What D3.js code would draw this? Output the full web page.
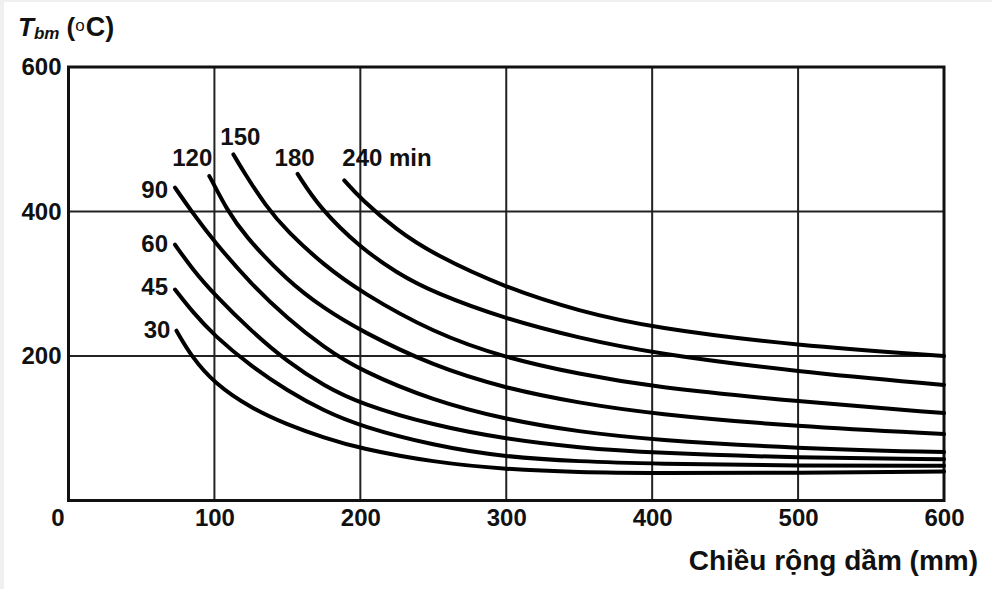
<!DOCTYPE html>
<html>
<head>
<meta charset="utf-8">
<script src="https://cdn.jsdelivr.net/npm/d3@7"></script>
<style>
  body { margin: 0; background: #f0f0f0; }
  svg { display: block; }
  text { font-family: "Liberation Sans", Arial, Helvetica, sans-serif; fill: #111; }
</style>
</head>
<body>
<script>
// fire duration curves (min) : [beam width mm, T_bm degC]
var t30  = [[74,235],[84,200],[100,162],[125,128],[150,105],[175,87],[200,72],[250,53],[300,43],[350,39],[400,38],[500,38],[600,40]];
var t45  = [[73,292],[85,261],[100,228],[125,186],[150,152],[175,124],[200,103],[250,76],[300,60],[350,54],[400,51],[500,48],[600,48]];
var t60  = [[73,354],[85,320],[100,285],[125,235],[150,192],[175,159],[200,134],[250,104],[300,85],[350,73],[400,66],[500,59],[600,57]];
var t90  = [[73,433],[84,401],[100,358],[125,300],[150,252],[175,212],[200,180],[250,138],[300,112],[350,95],[400,84],[500,72],[600,67]];
var t120 = [[96.5,449],[100,436],[108,405],[120,368],[150,304],[175,266],[200,235],[250,186],[300,155],[350,135],[400,120],[500,102],[600,92]];
var t150 = [[113,479],[120,455],[135,408],[150,372],[175,326],[200,289],[250,232],[300,197],[350,175],[400,157],[500,137],[600,121]];
var t180 = [[157,452],[172,405],[200,350],[225,315],[250,288],[300,251],[350,225],[400,204],[500,178],[600,160]];
var t240 = [[189,443],[200,418],[225,374],[250,341],[300,294],[350,262],[400,239],[500,214],[600,200]];

var curveLabels = ["30", "45", "60", "90", "120", "150", "180", "240 min"];
var xTicks = [0, 100, 200, 300, 400, 500, 600];
var yTicks = [200, 400, 600];

var series = [t30, t45, t60, t90, t120, t150, t180, t240];

// label placement relative to the start of each curve: [dx, dy, anchor]
var labelPlace = [[-6, 7, "end"], [-7, 5, "end"], [-7, 7, "end"], [-7, 10, "end"],
                  [3, -10, "end"], [7, -9, "middle"], [-3, -8, "middle"], [-2, -14, "start"]];

var W = 992, H = 589;
var margin = {top: 67, left: 68.5},
    width = 944 - margin.left,
    height = 500.5 - margin.top;

var svg = d3.select("body").append("svg")
    .attr("width", W)
    .attr("height", H);

svg.append("rect").attr("width", W).attr("height", H).attr("fill", "#f0f0f0");
svg.append("rect").attr("x", 4).attr("y", 2).attr("width", W - 4).attr("height", H - 2).attr("fill", "#fff");

var g = svg.append("g")
    .attr("transform", "translate(" + margin.left + "," + margin.top + ")");

var x = d3.scaleLinear().domain([0, 600]).range([0, width]);
var y = d3.scaleLinear().domain([0, 600]).range([height, 0]);

// grid
g.append("g").selectAll("line")
  .data(xTicks.slice(1, -1))
  .enter().append("line")
    .attr("x1", function(d) { return x(d); })
    .attr("x2", function(d) { return x(d); })
    .attr("y1", 0).attr("y2", height)
    .attr("stroke", "#222").attr("stroke-width", 2);

g.append("g").selectAll("line")
  .data(yTicks.slice(0, -1))
  .enter().append("line")
    .attr("y1", function(d) { return y(d); })
    .attr("y2", function(d) { return y(d); })
    .attr("x1", 0).attr("x2", width)
    .attr("stroke", "#222").attr("stroke-width", 2);

g.append("rect")
    .attr("width", width).attr("height", height)
    .attr("fill", "none").attr("stroke", "#111").attr("stroke-width", 3);

// axes
var xAxis = g.append("g")
    .attr("transform", "translate(0," + height + ")")
    .call(d3.axisBottom(x).tickValues(xTicks).tickSize(0).tickPadding(8));
var yAxis = g.append("g")
    .call(d3.axisLeft(y).tickValues(yTicks).tickSize(0).tickPadding(7));

[xAxis, yAxis].forEach(function(a) {
  a.select(".domain").remove();
  a.selectAll("text")
    .style("font-family", "'Liberation Sans', Arial, sans-serif")
    .style("font-size", "24px")
    .style("font-weight", "bold")
    .attr("fill", "#111");
});
xAxis.selectAll(".tick").filter(function(d) { return d === 0; })
    .select("text").attr("x", -11);

// curves
var line = d3.line()
    .x(function(d) { return x(d[0]); })
    .y(function(d) { return y(d[1]); })
    .curve(d3.curveBasis);

g.selectAll(".curve")
  .data(series)
  .enter().append("path")
    .attr("class", "curve")
    .attr("d", line)
    .attr("fill", "none")
    .attr("stroke", "#000")
    .attr("stroke-width", 4)
    .attr("stroke-linecap", "round");

g.selectAll(".clabel")
  .data(series)
  .enter().append("text")
    .attr("class", "clabel")
    .attr("x", function(d, i) { return x(d[0][0]) + labelPlace[i][0]; })
    .attr("y", function(d, i) { return y(d[0][1]) + labelPlace[i][1]; })
    .attr("text-anchor", function(d, i) { return labelPlace[i][2]; })
    .style("font-size", "24px")
    .style("font-weight", "bold")
    .text(function(d, i) { return curveLabels[i]; });

// axis titles
svg.append("text")
    .attr("x", 978)
    .attr("y", 570)
    .attr("text-anchor", "end")
    .style("font-size", "28px")
    .style("font-weight", "bold")
    .text("Chiều rộng dầm (mm)");

var yt = svg.append("text")
    .attr("x", 18)
    .attr("y", 36)
    .style("font-size", "26px")
    .style("font-weight", "bold");
yt.append("tspan").style("font-style", "italic").text("T");
yt.append("tspan").style("font-style", "italic").style("font-size", "17px").attr("dy", 3).text("bm");
yt.append("tspan").attr("dy", -3).text(" (");
yt.append("tspan").style("font-size", "17px").style("font-weight", "normal").attr("dy", -5).text("o");
yt.append("tspan").attr("dx", 1).attr("dy", 5).style("font-size", "27px").text("C)");
</script>
</body>
</html>
